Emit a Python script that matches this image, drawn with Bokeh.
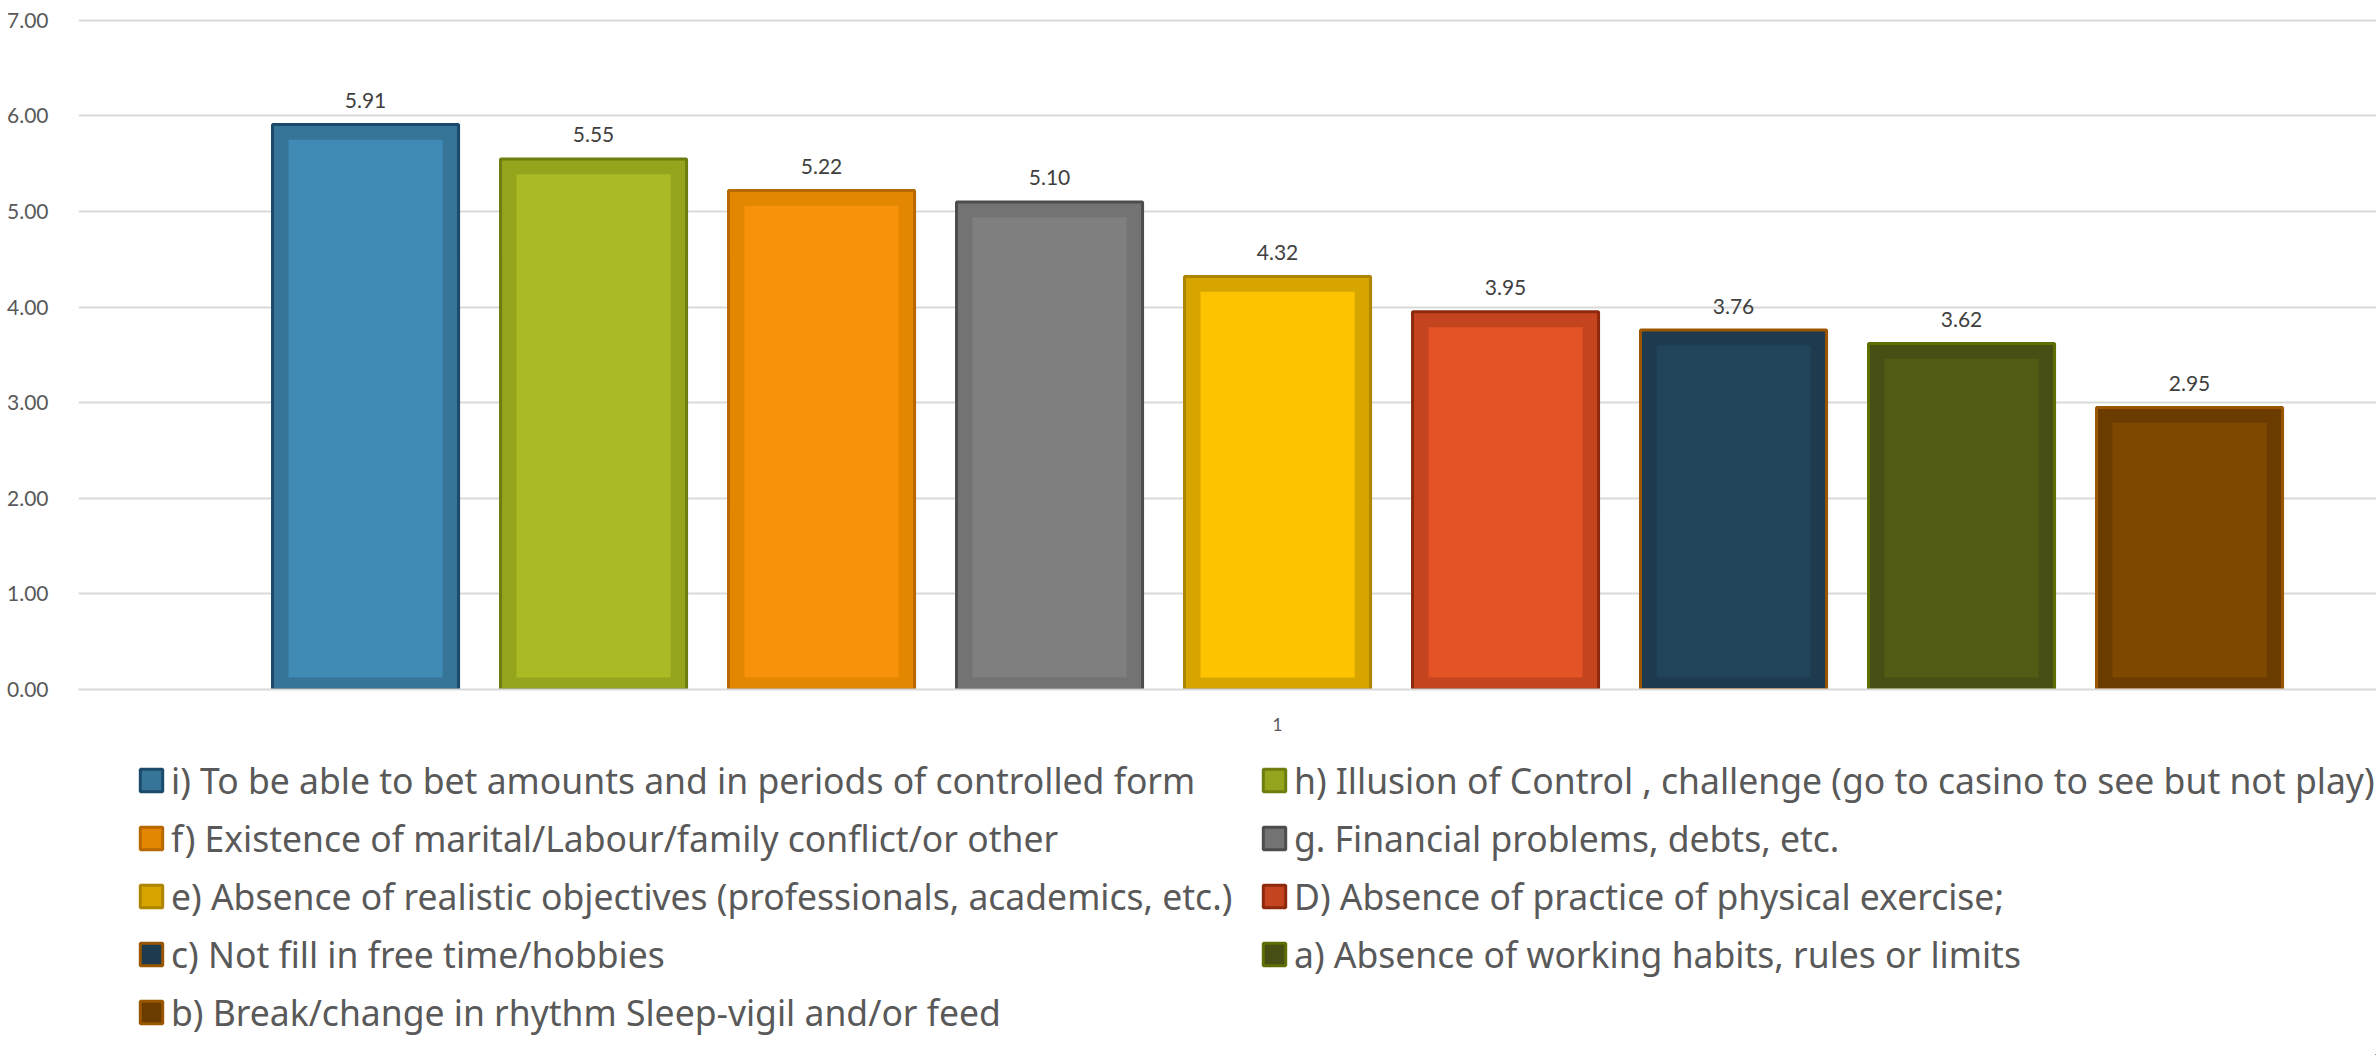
from bokeh.plotting import figure
from bokeh.layouts import column
from bokeh.models import ColumnDataSource, FixedTicker, Legend, LegendItem, NumeralTickFormatter
from bokeh.core.properties import value
from bokeh.embed import file_html
from bokeh.resources import INLINE

# Series (one per factor), listed in plotting order
labels = [
    "i) To be able to bet amounts and in periods of controlled form",
    "h) Illusion of Control , challenge (go to casino to see but not play)",
    "f) Existence of marital/Labour/family conflict/or other",
    "g. Financial problems, debts, etc.",
    "e) Absence of realistic objectives (professionals, academics, etc.)",
    "D) Absence of practice of physical exercise;",
    "c) Not fill in free time/hobbies",
    "a) Absence of working habits, rules or limits",
    "b) Break/change in rhythm Sleep-vigil and/or feed",
]
scores = [5.91, 5.55, 5.22, 5.10, 4.32, 3.95, 3.76, 3.62, 2.95]
positions = [1, 2, 3, 4, 5, 6, 7, 8, 9]

# Colours: inner face, bevel band, outline
face_colors = ["#408ab6", "#a9ba25", "#f7920a", "#7f7f7f", "#fdc300",
               "#e35325", "#21445a", "#525c15", "#7f4800"]
band_colors = ["#367498", "#94a41c", "#e38600", "#737373", "#d6a500",
               "#c3441f", "#1d3a4e", "#474f14", "#6b3c00"]
edge_colors = ["#1c4a6a", "#6d7d0f", "#b86800", "#4d4d4d", "#ad8500",
               "#8d2a0e", "#9a5500", "#5f6e00", "#9a5500"]

y_ticks = [0, 1, 2, 3, 4, 5, 6, 7]
category_tick = [5]
category_names = {5: "1"}

# bevel insets in data units
side_inset = 0.07
top_inset = 0.16
bottom_inset = 0.125
bar_width = 0.816

src = ColumnDataSource(dict(
    x=positions,
    score=scores,
    label=[f"{v:.2f}" for v in scores],
    inner_top=[v - top_inset for v in scores],
    inner_bottom=[bottom_inset] * len(scores),
    face=face_colors,
    band=band_colors,
    edge=edge_colors,
))

# ---- chart ----
p = figure(
    width=2376, height=750,
    x_range=(-0.259, 9.82), y_range=(0, 7.05),
    output_backend="svg", toolbar_location=None,
    min_border_left=78, min_border_right=0, min_border_top=15, min_border_bottom=61,
)
p.outline_line_color = None

p.vbar(x="x", top="score", bottom=0, width=bar_width, source=src,
       fill_color="band", line_color="edge", line_width=3)
p.vbar(x="x", top="inner_top", bottom="inner_bottom", width=bar_width - 2 * side_inset,
       source=src, fill_color="face", line_color=None)

p.text(x="x", y="score", text="label", source=src, y_offset=-24,
       text_align="center", text_baseline="alphabetic",
       text_font=value("Lato"), text_font_size="21px", text_color="#404040")

p.yaxis.ticker = FixedTicker(ticks=y_ticks)
p.yaxis.formatter = NumeralTickFormatter(format="0.00")
p.yaxis.axis_line_color = None
p.yaxis.major_tick_line_color = None
p.yaxis.minor_tick_line_color = None
p.yaxis.major_label_standoff = 24
p.yaxis.major_label_text_font = "Lato"
p.yaxis.major_label_text_font_size = "21px"
p.yaxis.major_label_text_color = "#595959"

p.xaxis.ticker = FixedTicker(ticks=category_tick)
p.xaxis.major_label_overrides = category_names
p.xaxis.axis_line_color = "#d9d9d9"
p.xaxis.axis_line_width = 2
p.xaxis.major_tick_line_color = None
p.xaxis.minor_tick_line_color = None
p.xaxis.major_label_standoff = 22
p.xaxis.major_label_text_font = "Lato"
p.xaxis.major_label_text_font_size = "17px"
p.xaxis.major_label_text_color = "#595959"

p.xgrid.grid_line_color = None
p.ygrid.grid_line_color = "#d9d9d9"
p.ygrid.grid_line_width = 2

# ---- legend panel (its frame is aligned with the chart frame, starting at x=78) ----
lg = figure(
    width=2376, height=305,
    x_range=(-30, -20), y_range=(100, 101),
    x_axis_location=None, y_axis_location=None,
    output_backend="svg", toolbar_location=None,
    min_border=0,
)
lg.grid.visible = False
lg.outline_line_color = None

# swatch renderer (its bars fall beyond the canvas corner; used only for legend glyphs)
swatch = lg.vbar(x="x", top="score", bottom=0, width=bar_width, source=src,
                 fill_color="band", line_color="edge", line_width=3)


def make_legend(indices, loc):
    leg = Legend(
        items=[LegendItem(label=labels[i], renderers=[swatch], index=i) for i in indices],
        location=loc,
        orientation="vertical",
        glyph_width=28, glyph_height=28,
        label_standoff=6,
        spacing=10,
        padding=0,
        margin=0,
        label_text_font="Noto Sans",
        label_text_font_size="35.5px",
        label_text_color="#595959",
        border_line_alpha=0,
        background_fill_alpha=0,
    )
    lg.add_layout(leg, "center")


make_legend([0, 2, 4, 6, 8], (59, 19))
make_legend([1, 3, 5, 7], (1182, 77))

layout = column(p, lg, spacing=0)
open("out.html", "w").write(file_html(layout, INLINE))
